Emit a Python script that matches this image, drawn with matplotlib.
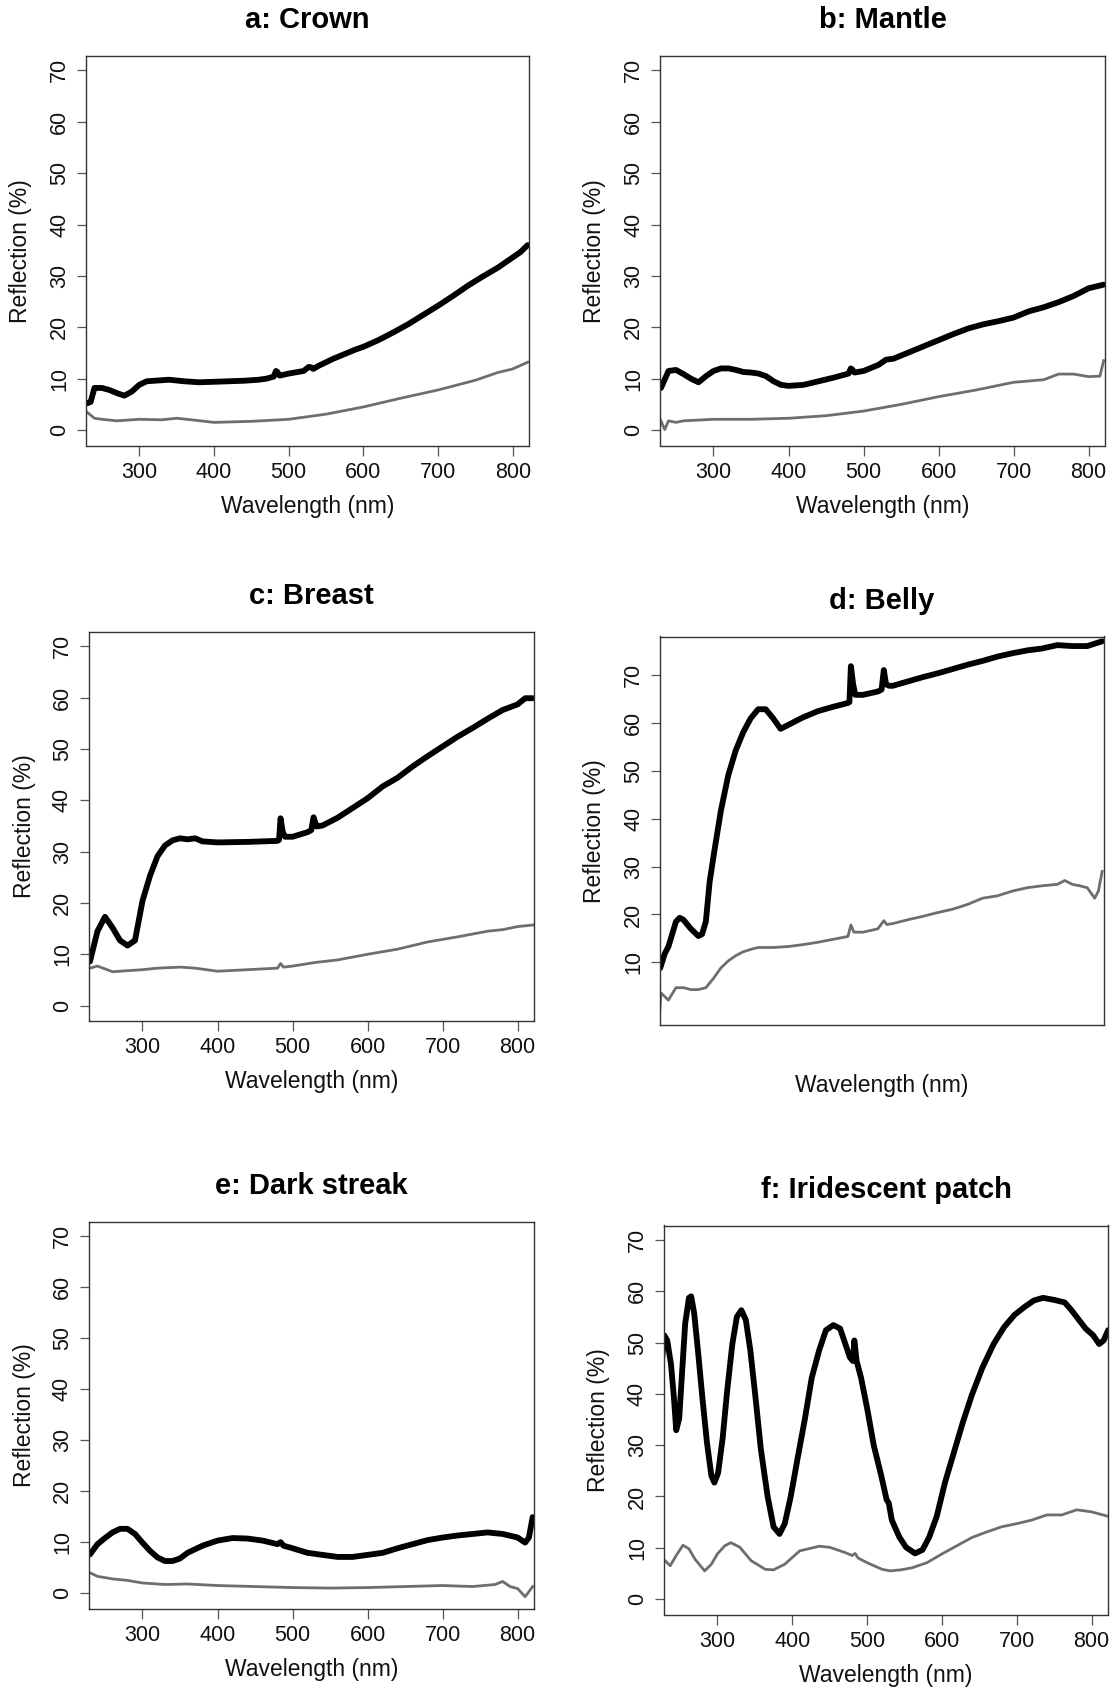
import matplotlib.pyplot as plt

plt.rcParams['font.family'] = ['Liberation Sans', 'DejaVu Sans']

# reflectance spectra, black = total, gray = second measurement
wl_a_black = [230, 235, 240, 250, 260, 270, 280, 290, 300, 310, 320, 340, 360, 380, 400, 420, 440, 460, 470,
              480, 483, 485, 488, 500, 520, 527, 530, 533, 540, 550, 560, 570, 580, 590, 600, 620, 640, 660,
              680, 700, 720, 740, 760, 780, 800, 810, 820]
a_black = [5.2, 5.5, 8.2, 8.2, 7.8, 7.2, 6.7, 7.5, 8.8, 9.5, 9.6, 9.8, 9.5, 9.3, 9.4, 9.5, 9.6, 9.8, 10.0,
           10.4, 11.5, 11.3, 10.6, 11.0, 11.5, 12.3, 12.2, 11.9, 12.5, 13.2, 13.9, 14.5, 15.1, 15.7, 16.2, 17.5,
           19.0, 20.6, 22.4, 24.2, 26.1, 28.1, 29.9, 31.6, 33.6, 34.6, 36.0]
wl_a_gray = [230, 240, 250, 270, 300, 330, 350, 370, 400, 450, 500, 550, 600, 650, 700, 750, 780, 800, 820]
a_gray = [3.5, 2.3, 2.1, 1.8, 2.1, 2.0, 2.3, 2.0, 1.5, 1.7, 2.1, 3.1, 4.5, 6.2, 7.8, 9.7, 11.2, 11.9, 13.2]

wl_b_black = [230, 240, 250, 260, 270, 280, 290, 300, 310, 320, 330, 340, 350, 360, 370, 380, 390, 400, 420,
              440, 460, 480, 483, 485, 488, 500, 520, 530, 540, 560, 580, 600, 620, 640, 660, 680, 700, 720,
              740, 760, 780, 800, 820]
b_black = [8.2, 11.5, 11.7, 10.9, 10.0, 9.3, 10.5, 11.5, 12.0, 12.0, 11.7, 11.3, 11.2, 11.0, 10.5, 9.5, 8.8,
           8.6, 8.8, 9.5, 10.2, 11.0, 12.0, 11.8, 11.2, 11.5, 12.7, 13.7, 13.9, 15.1, 16.3, 17.5, 18.7, 19.8,
           20.6, 21.2, 21.9, 23.1, 23.9, 24.9, 26.1, 27.6, 28.3]
wl_b_gray = [229, 235, 240, 250, 260, 300, 350, 400, 450, 500, 550, 600, 650, 700, 740, 760, 780, 800, 815, 820]
b_gray = [2.1, 0.1, 1.8, 1.5, 1.8, 2.1, 2.1, 2.3, 2.8, 3.7, 5.0, 6.5, 7.8, 9.3, 9.8, 10.9, 10.9, 10.4, 10.5, 13.5]

wl_c_black = [230, 240, 250, 260, 270, 280, 290, 300, 310, 320, 330, 340, 350, 360, 370, 380, 400, 440, 480,
              482, 484, 487, 490, 500, 520, 525, 528, 532, 540, 560, 580, 600, 620, 640, 660, 680, 700, 720,
              740, 760, 780, 800, 810, 820]
c_black = [8.6, 14.5, 17.3, 15.2, 12.7, 11.7, 12.7, 20.4, 25.3, 29.1, 31.2, 32.2, 32.6, 32.4, 32.6, 32.0, 31.8,
           31.9, 32.1, 32.3, 36.5, 33.8, 32.9, 32.9, 33.8, 34.2, 36.7, 34.9, 35.1, 36.6, 38.5, 40.4, 42.7, 44.4,
           46.6, 48.6, 50.5, 52.4, 54.1, 55.9, 57.6, 58.7, 59.9, 59.9]
wl_c_gray = [230, 240, 260, 280, 300, 320, 350, 370, 400, 440, 480, 484, 488, 500, 530, 560, 600, 640, 680,
             720, 760, 780, 800, 820]
c_gray = [7.3, 7.7, 6.6, 6.8, 7.0, 7.3, 7.5, 7.3, 6.7, 7.0, 7.3, 8.2, 7.5, 7.7, 8.4, 8.9, 10.0, 11.0, 12.4, 13.4,
          14.5, 14.8, 15.4, 15.7]

wl_d_black = [229, 235, 240, 250, 255, 260, 270, 280, 285, 290, 295, 300, 310, 320, 330, 340, 350, 360, 370,
              380, 390, 400, 410, 420, 440, 460, 480, 482, 484, 487, 490, 500, 520, 525, 528, 531, 535, 540,
              560, 580, 600, 620, 640, 660, 680, 700, 720, 740, 760, 780, 800, 820]
d_black = [8.8, 11.8, 13.3, 18.5, 19.3, 18.9, 17.0, 15.5, 15.9, 18.5, 26.7, 31.9, 41.6, 49.1, 54.3, 58.1, 61.0,
           62.9, 62.9, 61.0, 58.8, 59.6, 60.4, 61.2, 62.5, 63.4, 64.2, 64.4, 71.9, 68.1, 65.9, 65.9, 66.6, 67.0,
           71.1, 68.1, 67.8, 67.8, 68.7, 69.6, 70.4, 71.3, 72.2, 73.0, 73.9, 74.6, 75.2, 75.6, 76.3, 76.1, 76.1,
           77.1]
wl_d_gray = [228, 230, 240, 250, 260, 270, 280, 290, 300, 310, 320, 330, 340, 350, 360, 380, 400, 420, 440,
             460, 480, 484, 488, 500, 520, 528, 532, 540, 560, 580, 600, 620, 640, 660, 680, 700, 720, 740,
             760, 770, 780, 790, 800, 810, 815, 820]
d_gray = [-0.9, 3.6, 2.1, 4.7, 4.7, 4.3, 4.3, 4.7, 6.6, 8.8, 10.3, 11.4, 12.2, 12.7, 13.1, 13.1, 13.3, 13.7,
          14.2, 14.8, 15.4, 17.8, 16.3, 16.3, 17.0, 18.7, 17.9, 18.1, 18.9, 19.6, 20.4, 21.1, 22.1, 23.4, 23.9,
          24.9, 25.6, 26.0, 26.3, 27.1, 26.3, 26.0, 25.6, 23.4, 24.9, 29.0]

wl_e_black = [230, 240, 250, 260, 270, 280, 290, 300, 310, 320, 330, 340, 350, 360, 370, 380, 390, 400, 420,
              440, 460, 480, 484, 488, 500, 520, 540, 560, 580, 600, 620, 640, 660, 680, 700, 720, 740, 760,
              780, 800, 810, 815, 820]
e_black = [7.6, 9.6, 10.8, 11.9, 12.6, 12.6, 11.6, 9.9, 8.3, 7.0, 6.3, 6.3, 6.8, 7.9, 8.6, 9.3, 9.8, 10.3, 10.8,
           10.7, 10.3, 9.6, 10.0, 9.3, 8.8, 7.9, 7.5, 7.1, 7.1, 7.5, 7.9, 8.8, 9.6, 10.4, 10.9, 11.3, 11.6, 11.9,
           11.6, 10.9, 9.9, 10.9, 14.9]
wl_e_gray = [230, 240, 260, 280, 300, 330, 360, 400, 450, 500, 550, 600, 650, 700, 740, 770, 780, 790, 800,
             810, 820]
e_gray = [4.0, 3.3, 2.8, 2.5, 2.0, 1.7, 1.8, 1.5, 1.3, 1.1, 1.0, 1.1, 1.3, 1.5, 1.3, 1.7, 2.3, 1.3, 0.9, -0.7,
          1.3]

wl_f_black = [226, 229, 233, 238, 242, 245, 249, 253, 257, 262, 265, 269, 274, 280, 286, 292, 296, 301, 307,
              313, 320, 326, 332, 338, 344, 351, 358, 367, 375, 383, 390, 398, 407, 417, 426, 436, 445, 455,
              464, 471, 477, 481, 483, 486, 492, 500, 509, 519, 526, 529, 533, 543, 552, 564, 574, 583, 593,
              604, 616, 628, 640, 654, 669, 683, 697, 711, 723, 735, 750, 764, 773, 783, 792, 802, 810, 816,
              822]
f_black = [46.4, 51.4, 50.4, 45.8, 39.2, 32.9, 35.2, 44.5, 53.7, 58.7, 59.0, 55.7, 48.5, 39.2, 30.6, 24.0, 22.7,
           24.6, 31.3, 40.5, 49.7, 55.0, 56.3, 54.4, 48.5, 39.2, 29.3, 20.1, 14.1, 12.7, 14.7, 20.0, 27.3, 35.2,
           43.1, 48.5, 52.4, 53.4, 52.7, 49.7, 47.1, 46.4, 50.4, 46.4, 43.1, 37.2, 29.9, 24.0, 19.4, 18.7, 15.4,
           12.1, 10.1, 8.9, 9.6, 12.1, 16.1, 22.7, 28.6, 34.5, 39.8, 45.1, 49.7, 53.0, 55.4, 57.0, 58.2, 58.7,
           58.3, 57.8, 56.3, 54.4, 52.7, 51.4, 49.7, 50.4, 52.4]
wl_f_gray = [230, 237, 245, 254, 262, 270, 283, 292, 300, 310, 318, 330, 345, 364, 375, 390, 410, 436, 450,
             470, 480, 484, 488, 500, 520, 531, 545, 560, 580, 600, 620, 640, 660, 680, 700, 720, 740, 760,
             780, 800, 820]
f_gray = [7.5, 6.5, 8.5, 10.5, 9.8, 7.8, 5.5, 6.8, 8.8, 10.4, 11.0, 10.1, 7.5, 5.8, 5.7, 6.8, 9.4, 10.3, 10.1,
          9.1, 8.5, 8.9, 8.0, 7.1, 5.8, 5.5, 5.7, 6.1, 7.1, 8.8, 10.4, 12.0, 13.1, 14.1, 14.7, 15.4, 16.4, 16.4,
          17.4, 17.0, 16.2]

titles = ['a: Crown', 'b: Mantle', 'c: Breast', 'd: Belly', 'e: Dark streak', 'f: Iridescent patch']

# axes boxes in pixels: left, right, top, bottom
boxes = [(86, 529, 56, 445.5), (660, 1105, 56, 445.5),
         (89, 534, 632, 1021), (660, 1103.5, 636.5, 1025),
         (89, 534, 1221.5, 1608.5), (664, 1108, 1225.5, 1614.5)]

panels = [(wl_a_black, a_black, wl_a_gray, a_gray),
          (wl_b_black, b_black, wl_b_gray, b_gray),
          (wl_c_black, c_black, wl_c_gray, c_gray),
          (wl_d_black, d_black, wl_d_gray, d_gray),
          (wl_e_black, e_black, wl_e_gray, e_gray),
          (wl_f_black, f_black, wl_f_gray, f_gray)]

W, H = 1114, 1692
fig = plt.figure(figsize=(W / 100, H / 100), dpi=100)
px = 0.72  # points per pixel

for i, (title, (l, r, t, b), (wk, k, wg, g)) in enumerate(zip(titles, boxes, panels)):
    ax = fig.add_axes([l / W, 1 - b / H, (r - l) / W, (b - t) / H])
    ax.plot(wg, g, color='#6e6e6e', lw=2.0, solid_joinstyle='round')
    ax.plot(wk, k, color='black', lw=4.2, solid_joinstyle='round', solid_capstyle='round')
    ax.set_xlim(228.7, 821.8)
    if i == 3:
        ax.set_ylim(-3.1, 78.1)
        ax.set_yticks(range(10, 71, 10))
        ax.set_xticks([])
    else:
        ax.set_ylim(-3.0, 72.8)
        ax.set_yticks(range(0, 71, 10))
        ax.set_xticks(range(300, 801, 100))
    for s in ax.spines.values():
        s.set_color('#333333')
        s.set_linewidth(1.0)
    ax.tick_params(length=9.5 * px, width=0.9, color='#555555', labelsize=15.5,
                   labelcolor='#111111', pad=6.5 * px)
    for lab in ax.get_yticklabels():
        lab.set_rotation(90)
        lab.set_va('center')
    ax.set_xlabel('Wavelength (nm)', fontsize=16.5, color='#111111')
    ax.set_ylabel('Reflection (%)', fontsize=16.5, color='#111111')
    ax.xaxis.set_label_coords(0.5, -60.5 / (b - t))
    ax.xaxis.label.set_va('center')
    ax.yaxis.set_label_coords(-65 / (r - l), 0.5)
    ax.yaxis.label.set_va('center')
    ax.text(0.5, 1 + 36 / (b - t), title, transform=ax.transAxes, ha='center', va='center',
            fontsize=21, fontweight='bold')

fig.savefig('out.png', dpi=100, facecolor='white')
